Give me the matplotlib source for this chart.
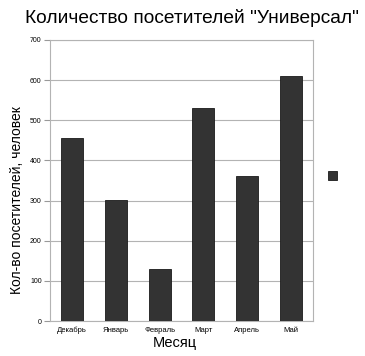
import matplotlib.pyplot as plt

# data
months = ["Декабрь", "Январь", "Февраль", "Март", "Апрель", "Май"]
visitors = [455, 302, 130, 530, 360, 610]
y_ticks = [0, 100, 200, 300, 400, 500, 600, 700]

plt.rcParams["font.family"] = ["Liberation Sans", "DejaVu Sans"]
fig = plt.figure(figsize=(3.65, 3.56), dpi=100)
ax = fig.add_axes([50 / 365, 1 - 321 / 356, 263 / 365, 281 / 356])

x = range(len(months))
ax.bar(x, visitors, width=0.5, color="#333333", edgecolor="#1a1a1a", linewidth=0.6, zorder=3)

ax.set_xlim(-0.5, len(months) - 0.5)
ax.set_ylim(0, 700)
ax.set_yticks(y_ticks)
ax.set_xticks(list(x))
ax.set_xticklabels(months, fontsize=5.5)
ax.tick_params(axis="y", labelsize=5, length=4, color="#999999", pad=2)
ax.tick_params(axis="x", length=0, pad=4)
ax.grid(axis="y", color="#b3b3b3", linewidth=0.8, zorder=0)
for s in ax.spines.values():
    s.set_color("#b3b3b3")
    s.set_linewidth(0.8)

ax.set_ylabel("Кол-во посетителей, человек", fontsize=10)
ax.yaxis.set_label_coords(-0.1, 0.43)
ax.set_xlabel("Месяц", fontsize=10.5)
ax.xaxis.set_label_coords(0.475, -0.052)
fig.text(0.525, 1 - 18 / 356, 'Количество посетителей "Универсал"', fontsize=13.8,
         ha="center", va="center")

# legend marker without label
fig.patches.append(plt.Rectangle((328 / 365, 1 - 180 / 356), 9 / 365, 9 / 356,
                                 transform=fig.transFigure, facecolor="#333333",
                                 edgecolor="#1a1a1a", linewidth=0.6))

fig.savefig("out.png", dpi=100)
